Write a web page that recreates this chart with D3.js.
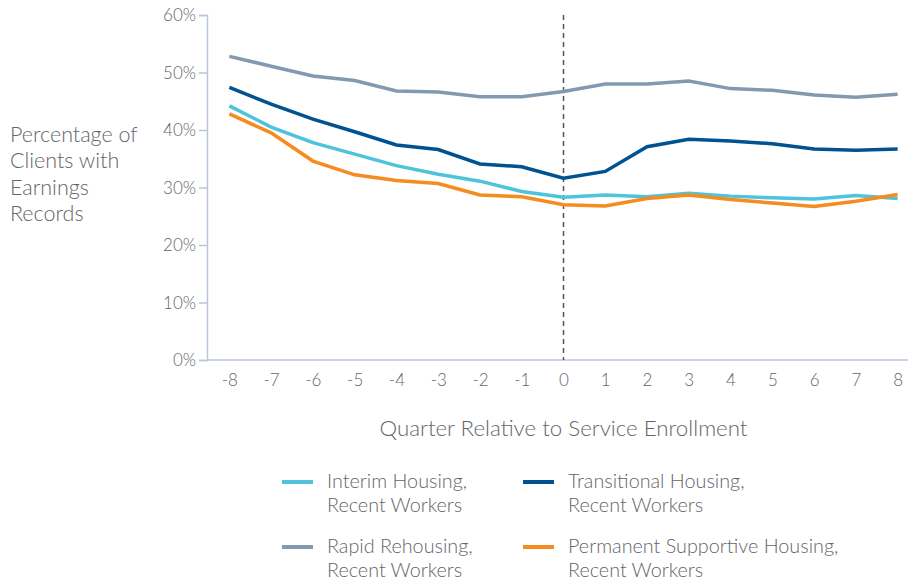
<!DOCTYPE html>
<html><head><meta charset="utf-8">
<script src="https://cdn.jsdelivr.net/npm/d3@7"></script>
<style>body{margin:0;background:#fff;}svg{display:block;font-family:Lato,"Open Sans",sans-serif;}</style>
</head><body><svg id="c" width="908" height="582"></svg>
<script>
const quarters = [-8,-7,-6,-5,-4,-3,-2,-1,0,1,2,3,4,5,6,7,8];
const interim = [44.2,40.5,37.8,35.8,33.8,32.3,31.1,29.3,28.3,28.7,28.4,29.0,28.5,28.2,28.0,28.6,28.1];
const transitional = [47.4,44.5,41.9,39.7,37.4,36.6,34.1,33.6,31.6,32.8,37.1,38.4,38.1,37.6,36.7,36.5,36.7];
const rapid = [52.8,51.1,49.4,48.6,46.8,46.6,45.8,45.8,46.7,48.0,48.0,48.5,47.2,46.9,46.1,45.7,46.2];
const permanent = [42.8,39.5,34.6,32.2,31.2,30.7,28.7,28.4,27.0,26.8,28.1,28.7,27.9,27.3,26.7,27.6,28.8];
const yTicks = [0,10,20,30,40,50,60];
const seriesNames = ["Interim Housing, Recent Workers","Transitional Housing, Recent Workers","Rapid Rehousing, Recent Workers","Permanent Supportive Housing, Recent Workers"];
const seriesColors = ["#4ec3dc","#005291","#8299b1","#f68b1f"];
const seriesData = [interim, transitional, rapid, permanent];

const svg = d3.select("#c");
const textColor = "#646568";
const axisColor = "#b9c6da";
const x = d3.scaleLinear().domain([-8.5, 8.5]).range([208.5, 918.5]);
const y = d3.scaleLinear().domain([0, 60]).range([360, 15]);

// y axis
const yAxis = d3.axisLeft(y).tickValues(yTicks).tickFormat(d => d + "%").tickSize(8).tickPadding(3);
const gy = svg.append("g").attr("transform", "translate(207,0)").call(yAxis);
gy.select(".domain").attr("stroke", axisColor).attr("stroke-width", 1.5);
gy.selectAll(".tick line").attr("stroke", axisColor).attr("stroke-width", 1.5);
gy.selectAll(".tick text").attr("fill", textColor).style("font-size", "17px").style("font-family", "Lato,sans-serif").style("font-weight", 300).attr("dy", "0.35em");

// x axis
const xAxis = d3.axisBottom(x).tickValues(quarters).tickFormat(d => d).tickSize(0).tickPadding(14);
const gx = svg.append("g").attr("transform", "translate(0,360)").call(xAxis);
gx.select(".domain").attr("stroke", axisColor).attr("stroke-width", 1.5).attr("d", "M207,0H908");
gx.selectAll(".tick text").attr("fill", textColor).style("font-size", "17px").style("font-family", "Lato,sans-serif").style("font-weight", 300);

// dashed line at 0
svg.append("line").attr("x1", x(0)).attr("x2", x(0)).attr("y1", y(60)).attr("y2", y(0))
  .attr("stroke", "#555").attr("stroke-width", 1.5).attr("stroke-dasharray", "5,4");

// lines
const line = d3.line().x((d, i) => x(quarters[i])).y(d => y(d));
const order = [2, 1, 0, 3];
order.forEach(k => {
  svg.append("path").datum(seriesData[k]).attr("d", line).attr("fill", "none")
    .attr("stroke", seriesColors[k]).attr("stroke-width", 3.5).attr("stroke-linejoin", "miter");
});

// axis titles
svg.append("text").attr("x", x(0)).attr("y", 436).attr("text-anchor", "middle")
  .attr("fill", textColor).style("font-size", "22.3px").style("font-weight", 300).text("Quarter Relative to Service Enrollment");
const yt = svg.append("text").attr("x", 10).attr("y", 142).attr("fill", textColor).style("font-size", "21.5px").style("font-weight", 300);
["Percentage of", "Clients with", "Earnings", "Records"].forEach((t, i) => {
  yt.append("tspan").attr("x", 10).attr("dy", i === 0 ? 0 : 26.3).text(t);
});

// legend
const legPos = [[282, 482], [523, 482], [282, 547], [523, 547]];
seriesNames.forEach((n, k) => {
  const [lx, ly] = legPos[k];
  svg.append("line").attr("x1", lx).attr("x2", lx + 31).attr("y1", ly).attr("y2", ly)
    .attr("stroke", seriesColors[k]).attr("stroke-width", 4);
  const parts = n.split(", ");
  const t = svg.append("text").attr("x", lx + 45).attr("y", ly + 6).attr("fill", textColor).style("font-size", "19.8px").style("font-weight", 300);
  t.append("tspan").attr("x", lx + 45).text(parts[0] + ",");
  t.append("tspan").attr("x", lx + 45).attr("dy", 23.5).text(parts[1]);
});
</script></body></html>
